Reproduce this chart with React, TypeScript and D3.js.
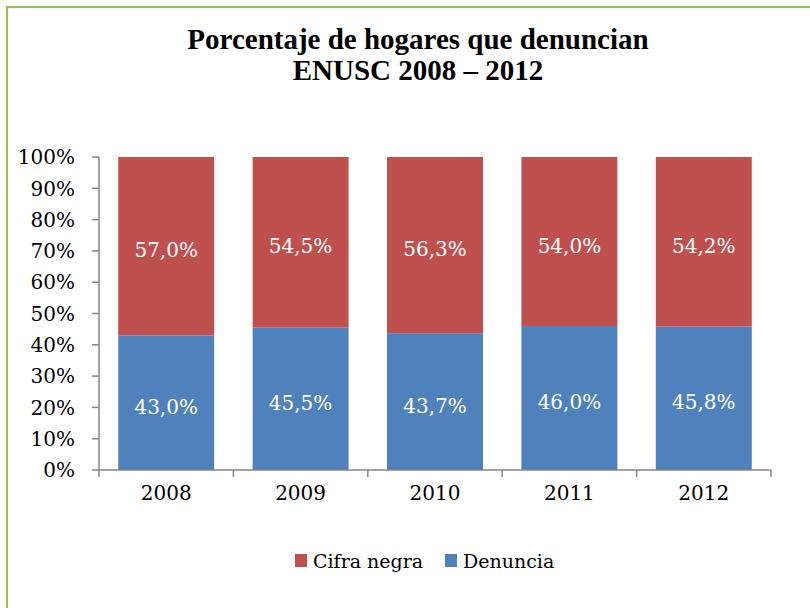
import React from "react";
import * as d3 from "d3";

const years = ["2008", "2009", "2010", "2011", "2012"];
const denuncia = [43.0, 45.5, 43.7, 46.0, 45.8];
const cifraNegra = [57.0, 54.5, 56.3, 54.0, 54.2];
const yTicks = [0, 10, 20, 30, 40, 50, 60, 70, 80, 90, 100];
const titleLines = ["Porcentaje de hogares que denuncian", "ENUSC 2008 – 2012"];

const BLUE = "#4F81BD";
const RED = "#C0504D";
const FONT = "'DejaVu Serif', serif";
const fmt = (v: number) => v.toFixed(1).replace(".", ",") + "%";

export default function App() {
  const width = 810;
  const height = 608;
  const left = 99, right = 771, top = 157, bottom = 470;

  const x = d3.scaleBand<string>().domain(years).range([left, right]).paddingInner(0.286).paddingOuter(0.143);
  const y = d3.scaleLinear().domain([0, 100]).range([bottom, top]);
  const step = (right - left) / years.length;

  const stacked = d3.stack<any>().keys(["denuncia", "cifraNegra"])(
    years.map((yr, i) => ({ year: yr, denuncia: denuncia[i], cifraNegra: cifraNegra[i] }))
  );
  const colors = [BLUE, RED];

  return (
    <div style={{ position: "absolute", left: 0, top: 0 }}>
      <svg width={width} height={height} style={{ display: "block" }}>
        <rect x={0} y={0} width={width} height={height} fill="#fff" />
        <rect x={7} y={7} width={width + 20} height={height + 20} fill="none" stroke="#9BBB59" strokeWidth={2.2} />

        {titleLines.map((t, i) => (
          <text key={t} x={418} y={49 + i * 31} textAnchor="middle" fontFamily="'Liberation Serif', serif"
            fontWeight="bold" fontSize={29}>{t}</text>
        ))}

        {stacked.map((layer, li) => (
          <g key={layer.key}>
            {layer.map((d, i) => (
              <g key={i}>
                <rect x={x(years[i])} y={y(d[1])} width={x.bandwidth()} height={y(d[0]) - y(d[1])} fill={colors[li]} />
                <text x={x(years[i])! + x.bandwidth() / 2} y={(y(d[0]) + y(d[1])) / 2 + 4} dy="0.35em"
                  textAnchor="middle" fill="#fff" fontFamily={FONT} fontSize={20}>
                  {fmt(d[1] - d[0])}
                </text>
              </g>
            ))}
          </g>
        ))}

        {/* y axis */}
        <line x1={left} x2={left} y1={top} y2={bottom} stroke="#868686" strokeWidth={1.5} />
        {yTicks.map(t => (
          <g key={t}>
            <line x1={left - 7} x2={left} y1={y(t)} y2={y(t)} stroke="#868686" strokeWidth={1.5} />
            <text x={75} y={y(t)} dy="0.36em" textAnchor="end" fontFamily={FONT} fontSize={20}>{t}%</text>
          </g>
        ))}

        {/* x axis */}
        <line x1={left} x2={right} y1={bottom} y2={bottom} stroke="#868686" strokeWidth={1.5} />
        {d3.range(years.length + 1).map(i => (
          <line key={i} x1={left + i * step} x2={left + i * step} y1={bottom} y2={bottom + 7} stroke="#868686" strokeWidth={1.5} />
        ))}
        {years.map(yr => (
          <text key={yr} x={x(yr)! + x.bandwidth() / 2} y={500} textAnchor="middle" fontFamily={FONT} fontSize={20}>{yr}</text>
        ))}

        {/* legend */}
        {[{ label: "Cifra negra", color: RED, x: 295 }, { label: "Denuncia", color: BLUE, x: 445 }].map(l => (
          <g key={l.label}>
            <rect x={l.x} y={554} width={12} height={13} fill={l.color} />
            <text x={l.x + 18} y={568} fontFamily={FONT} fontSize={19}>{l.label}</text>
          </g>
        ))}
      </svg>
    </div>
  );
}
